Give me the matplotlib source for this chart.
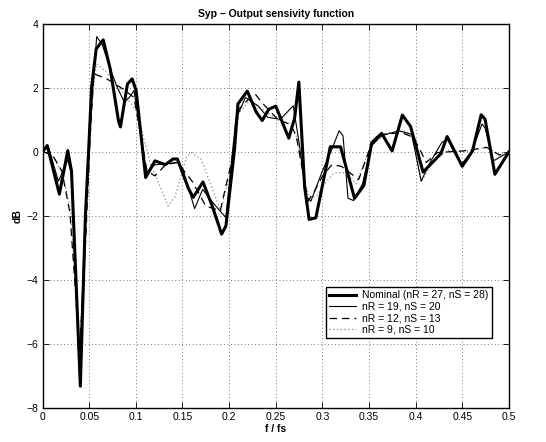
import matplotlib
matplotlib.use("Agg")
import matplotlib.pyplot as plt

plt.rcParams['font.family'] = ['Liberation Sans', 'DejaVu Sans']

# Nominal (nR = 27, nS = 28)
x_nom = [0, 0.005, 0.018, 0.027, 0.031, 0.0405, 0.0459, 0.0493, 0.0525, 0.0575, 0.065,
         0.0725, 0.0815, 0.0835, 0.091, 0.096, 0.1003, 0.1105, 0.1205, 0.1315, 0.140,
         0.1445, 0.1565, 0.1615, 0.1720, 0.182, 0.1920, 0.1966, 0.2058, 0.2095, 0.2195,
         0.2290, 0.2355, 0.2425, 0.2500, 0.2640, 0.2702, 0.2748, 0.2810, 0.2858, 0.2930,
         0.3085, 0.3195, 0.3345, 0.3445, 0.3530, 0.3635, 0.3748, 0.3858, 0.3945, 0.4080,
         0.4270, 0.4338, 0.4500, 0.4610, 0.4703, 0.4745, 0.4850, 0.5]
y_nom = [0.0, 0.2, -1.32, 0.04, -0.6, -7.32, -2.0, 0.0, 2.0, 3.22, 3.5,
         2.6, 0.95, 0.78, 2.12, 2.28, 1.92, -0.8, -0.28, -0.4, -0.22,
         -0.22, -1.15, -1.42, -0.94, -1.7, -2.57, -2.31, 0.08, 1.5, 1.9,
         1.25, 0.98, 1.33, 1.43, 0.43, 1.05, 2.18, -1.1, -2.11, -2.06,
         0.16, 0.16, -1.45, -1.05, 0.29, 0.58, 0.03, 1.15, 0.8, -0.63,
         -0.06, 0.48, -0.45, 0.03, 1.16, 1.02, -0.7, 0.0]

# nR = 19, nS = 20
x_19 = [0, 0.006, 0.017, 0.027, 0.031, 0.0395, 0.046, 0.050, 0.058, 0.064, 0.0725,
        0.0795, 0.0877, 0.093, 0.098, 0.1115, 0.1205, 0.131, 0.1445, 0.150, 0.163,
        0.1717, 0.183, 0.1965, 0.2072, 0.2175, 0.231, 0.2414, 0.255, 0.2688, 0.2755,
        0.2825, 0.2877, 0.300, 0.309, 0.318, 0.3222, 0.3275, 0.3335, 0.343, 0.3527,
        0.363, 0.382, 0.3957, 0.406, 0.416, 0.428, 0.434, 0.449, 0.460, 0.4712,
        0.4745, 0.4835, 0.5]
y_19 = [0, 0.18, -0.92, -0.25, -0.7, -7.0, -1.8, 0.5, 3.6, 3.35, 2.6,
        2.05, 1.55, 1.7, 1.92, -0.65, -0.4, -0.38, -0.33, -0.5, -1.77,
        -1.17, -1.6, -2.05, 1.02, 1.7, 1.44, 1.08, 1.02, 1.44, 0.2,
        -1.38, -1.54, -0.6, 0.0, 0.66, 0.5, -1.45, -1.52, -1.0, 0.19,
        0.5, 0.66, 0.55, -0.91, -0.3, 0.29, 0.4, -0.39, 0.0, 0.87,
        0.75, -0.28, 0.0]

# nR = 12, nS = 13
x_12 = [0, 0.0103, 0.0207, 0.0293, 0.0397, 0.0466, 0.051, 0.0551, 0.0690, 0.086,
        0.098, 0.112, 0.1205, 0.132, 0.1445, 0.160, 0.175, 0.1905, 0.1955, 0.2025,
        0.2106, 0.221, 0.2285, 0.2355, 0.2525, 0.266, 0.272, 0.2847, 0.2915, 0.300,
        0.3102, 0.3204, 0.339, 0.352, 0.365, 0.385, 0.398, 0.4114, 0.4234, 0.4507,
        0.4763, 0.49, 0.5]
y_12 = [0, -0.08, -0.6, -1.9, -6.2, -2.5, 0.5, 2.44, 2.28, 1.97,
        1.7, -0.6, -0.75, -0.4, -0.33, -0.9, -1.69, -1.84, -1.2, -0.33,
        1.34, 1.65, 1.79, 1.53, 1.01, 0.85, 0.5, -1.54, -1.23, -0.76,
        -0.4, -0.45, -0.86, 0.2, 0.55, 0.6, 0.45, -0.33, -0.02, 0.03,
        0.14, -0.1, 0.0]

# nR = 9, nS = 10
x_9 = [0, 0.010, 0.021, 0.030, 0.0395, 0.047, 0.052, 0.058, 0.068, 0.077, 0.091,
       0.100, 0.105, 0.115, 0.1345, 0.142, 0.1546, 0.160, 0.170, 0.180, 0.191,
       0.200, 0.210, 0.222, 0.235, 0.252, 0.265, 0.272, 0.285, 0.293, 0.305,
       0.313, 0.328, 0.336, 0.352, 0.370, 0.388, 0.398, 0.406, 0.418, 0.435,
       0.452, 0.475, 0.49, 0.5]
y_9 = [0, -0.1, -0.65, -1.8, -6.0, -2.0, 1.5, 2.75, 2.5, 2.18, 1.66,
       1.3, 0.81, -0.3, -1.69, -1.4, -0.13, -0.02, -0.23, -1.0, -1.84,
       -0.8, 1.2, 1.6, 1.35, 1.0, 0.9, 0.5, -1.4, -1.4, -0.9,
       -0.65, -0.65, -1.0, 0.2, 0.6, 0.65, 0.5, -0.95, -0.3, 0.05,
       0.0, 0.15, -0.1, 0.0]

labels = ['Nominal (nR = 27, nS = 28)', 'nR = 19, nS = 20', 'nR = 12, nS = 13', 'nR = 9, nS = 10']
x_ticks = [0, 0.05, 0.1, 0.15, 0.2, 0.25, 0.3, 0.35, 0.4, 0.45, 0.5]
x_ticklabels = ['0', '0.05', '0.1', '0.15', '0.2', '0.25', '0.3', '0.35', '0.4', '0.45', '0.5']
y_ticks = [-8, -6, -4, -2, 0, 2, 4]

fig = plt.figure(figsize=(5.46, 4.42), dpi=100)
ax = fig.add_axes([0.078, 0.077, 0.854, 0.869])

ax.plot(x_nom, y_nom, color='black', lw=2.2, label=labels[0], zorder=5)
ax.plot(x_19, y_19, color='black', lw=0.8, label=labels[1], zorder=4)
ax.plot(x_12, y_12, color='black', lw=0.9, ls=(0, (6, 4)), label=labels[2], zorder=3)
ax.plot(x_9, y_9, color='#888888', lw=0.9, ls=(0, (1, 2)), label=labels[3], zorder=2)

ax.set_xlim(0, 0.5)
ax.set_ylim(-8, 4)
ax.set_xticks(x_ticks)
ax.set_xticklabels(x_ticklabels)
ax.set_yticks(y_ticks)
ax.tick_params(direction='in', top=True, right=True, length=4, width=0.6,
               labelsize=7.5, pad=3)
ax.grid(True, color='black', ls=(0, (1, 4)), lw=0.5)
for s in ax.spines.values():
    s.set_linewidth(1.0)

ax.set_title('Syp \u2013 Output sensivity function', fontsize=7.5, fontweight='bold', pad=5)
ax.set_xlabel('f / fs', fontsize=7.5, fontweight='bold', labelpad=1)
ax.set_ylabel('dB', fontsize=7.5, fontweight='bold', labelpad=3)

leg = ax.legend(loc='lower left', bbox_to_anchor=(0.607, 0.182), fontsize=7.5,
                frameon=True, fancybox=False, edgecolor='black', framealpha=1,
                borderpad=0.3, labelspacing=0.15, handlelength=2.6, handletextpad=0.6,
                borderaxespad=0)
leg.get_frame().set_linewidth(1.0)

fig.savefig('out.png', dpi=100)
